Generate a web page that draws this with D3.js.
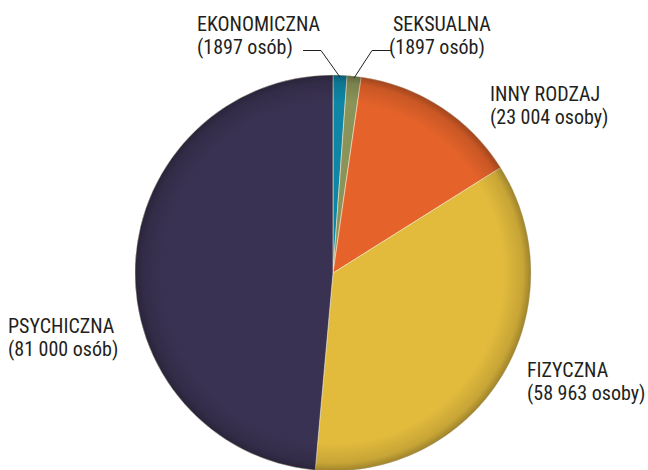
<!DOCTYPE html>
<html><head><meta charset="utf-8">
<script src="https://cdn.jsdelivr.net/npm/d3@7"></script>
<style>
html,body{margin:0;padding:0;background:#fff;}
text{font-family:"Liberation Sans Narrow","Roboto Condensed","Liberation Sans",sans-serif;fill:#231f20;}
</style></head>
<body><svg id="c" width="648" height="470"></svg>
<script>
const categories = ["EKONOMICZNA","SEKSUALNA","INNY RODZAJ","FIZYCZNA","PSYCHICZNA"];
const values = [1897, 1897, 23004, 58963, 81000];
const valueLabels = ["(1897 osób)","(1897 osób)","(23 004 osoby)","(58 963 osoby)","(81 000 osób)"];
const colors = ["#0f86a6","#8b9458","#e5632a","#e2bb3d","#3a3252"];

const svg = d3.select("#c");
const cx = 333, cy = 273, R = 198;
const defs = svg.append("defs");
const grad = defs.append("radialGradient").attr("id","shade")
  .attr("gradientUnits","userSpaceOnUse").attr("cx",cx).attr("cy",cy).attr("r",R);
grad.append("stop").attr("offset","0.86").attr("stop-color","#000").attr("stop-opacity",0);
grad.append("stop").attr("offset","0.96").attr("stop-color","#000").attr("stop-opacity",0.12);
grad.append("stop").attr("offset","1").attr("stop-color","#000").attr("stop-opacity",0.3);

const pie = d3.pie().sort(null).value(d=>d);
const arcs = pie(values);
const arc = d3.arc().innerRadius(0).outerRadius(R);
const g = svg.append("g").attr("transform",`translate(${cx},${cy})`);
g.selectAll("path.s").data(arcs).join("path").attr("class","s")
  .attr("d",arc).attr("fill",(d,i)=>colors[i])
  .attr("stroke","#f3ead0").attr("stroke-width",0.7).attr("stroke-opacity",0.8);
svg.append("circle").attr("cx",cx).attr("cy",cy).attr("r",R).attr("fill","url(#shade)");

// leader lines
const lead = d3.line();
const p0 = d3.arc().innerRadius(R-2).outerRadius(R-2).centroid(arcs[0]);
const p1 = d3.arc().innerRadius(R-2).outerRadius(R-2).centroid(arcs[1]);
svg.append("path").attr("d",lead([[303,50.5],[321,50.5],[cx+p0[0],cy+p0[1]]]))
  .attr("fill","none").attr("stroke","#231f20").attr("stroke-width",1);
svg.append("path").attr("d",lead([[392,50.5],[372,50.5],[cx+p1[0],cy+p1[1]]]))
  .attr("fill","none").attr("stroke","#231f20").attr("stroke-width",1);

const labelPos = [[197,31],[393,31],[490,101],[527,377],[8,333]];
const dx2 = [0,-4,0,0,0];
categories.forEach((c,i)=>{
  const t = svg.append("text").attr("x",labelPos[i][0]).attr("y",labelPos[i][1]).attr("font-size",20);
  t.append("tspan").attr("x",labelPos[i][0]).text(c);
  t.append("tspan").attr("x",labelPos[i][0]+dx2[i]).attr("dy",23).text(valueLabels[i]);
});
</script></body></html>
